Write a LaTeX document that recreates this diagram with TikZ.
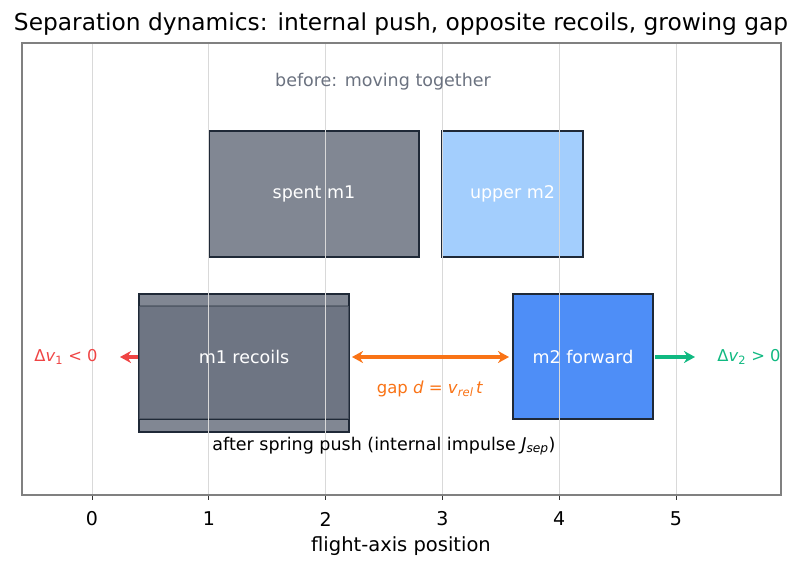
\documentclass[tikz,border=0pt]{standalone}
\usepackage{fontspec}
\setmainfont{DejaVu Sans}
\usetikzlibrary{arrows.meta}
\definecolor{slate}{HTML}{6B7280}
\definecolor{lblue}{HTML}{93C5FD}
\definecolor{mblue}{HTML}{3B82F6}
\definecolor{edgec}{HTML}{1F2937}
\definecolor{redc}{HTML}{EF4444}
\definecolor{grnc}{HTML}{10B981}
\definecolor{orgc}{HTML}{F97316}
\definecolor{gridc}{HTML}{D9D9D9}
\definecolor{graytxt}{HTML}{6B7280}
\newcommand{\fs}[1]{\fontsize{#1}{#1}\selectfont}
\begin{document}
\begin{tikzpicture}[x=1pt,y=-1pt,
  massbox/.style={draw=edgec, line width=1.4pt, fill opacity=0.85, text opacity=1, inner sep=0pt, text=white, font=\fs{17.5}},
  gridline/.style={draw=gridc, line width=0.8pt},
  thickarrow/.style={line width=3.2pt, -{Stealth[length=11pt,width=12pt]}},
]
\useasboundingbox (0,0) rectangle (802,569);
% title
\node (title) at (401,24) {\fs{23.3}Separation dynamics: internal push, opposite recoils, growing gap};
% boxes
\node[massbox, fill=slate, minimum width=210pt, minimum height=126pt] (spent) at (314,194) {spent m1};
\node[massbox, fill=lblue, minimum width=141pt, minimum height=126pt] (upper) at (512.5,194) {upper m2};
\node[massbox, fill=slate, minimum width=210pt, minimum height=138pt] (m1out) at (244,363) {};
\node[massbox, fill=slate, minimum width=210pt, minimum height=113pt, draw opacity=0.35] (m1in) at (244,362.5) {};
\draw[edgec, line width=1.4pt] (m1in.south west) -- (m1in.south east);
\node[text=white, font=\fs{17.5}] (m1lab) at (244,357) {m1 recoils};
\node[massbox, fill=mblue, fill opacity=0.9, minimum width=140pt, minimum height=125pt] (m2f) at (583,356.5) {m2 forward};
% grid on top
\foreach \i in {0,...,5} {
  \coordinate (gt\i) at (92+116.8*\i,43);
  \coordinate (gb\i) at (92+116.8*\i,495);
  \draw[gridline] (gt\i) -- (gb\i);
  \coordinate (tk\i) at (92+116.8*\i,500);
  \draw[line width=0.8pt, draw=black!80] (gb\i) -- (tk\i);
  \node[font=\fs{19}] (tl\i) at (92+116.8*\i,519) {\i};
}
% axes frame
\node[draw=black!50, line width=1.1pt, minimum width=759pt, minimum height=452pt, inner sep=0pt] (frame) at (401.5,269) {};
% texts
\node[text=graytxt, font=\fs{17.5}] (before) at (383,82) {before: moving together};
\node[font=\fs{17.5}] (after) at (384,446) {after spring push (internal impulse \textit{J}\textsubscript{\textit{sep}})};
\node[font=\fs{19.5}] (xlab) at (401,546) {flight-axis position};
% arrows
\coordinate (rs) at (138,357);
\coordinate (rt) at (120,357);
\draw[thickarrow, redc] (rs) -- (rt);
\node[text=redc, font=\fs{16.3}] (dv1) at (66,357) {Δ\textit{v}\textsubscript{1} < 0};
\coordinate (gs) at (655,357);
\coordinate (gtp) at (695,357);
\draw[thickarrow, grnc] (gs) -- (gtp);
\node[text=grnc, font=\fs{16.3}] (dv2) at (749,357) {Δ\textit{v}\textsubscript{2} > 0};
\coordinate (os) at (352,357);
\coordinate (ot) at (509,357);
\draw[line width=3.2pt, orgc, {Stealth[length=11pt,width=12pt]}-{Stealth[length=11pt,width=12pt]}] (os) -- (ot);
\node[text=orgc, font=\fs{16.5}] (gap) at (430,389) {gap \textit{d} = \textit{v}\textsubscript{\textit{rel}}\,\textit{t}};
\end{tikzpicture}
\end{document}
